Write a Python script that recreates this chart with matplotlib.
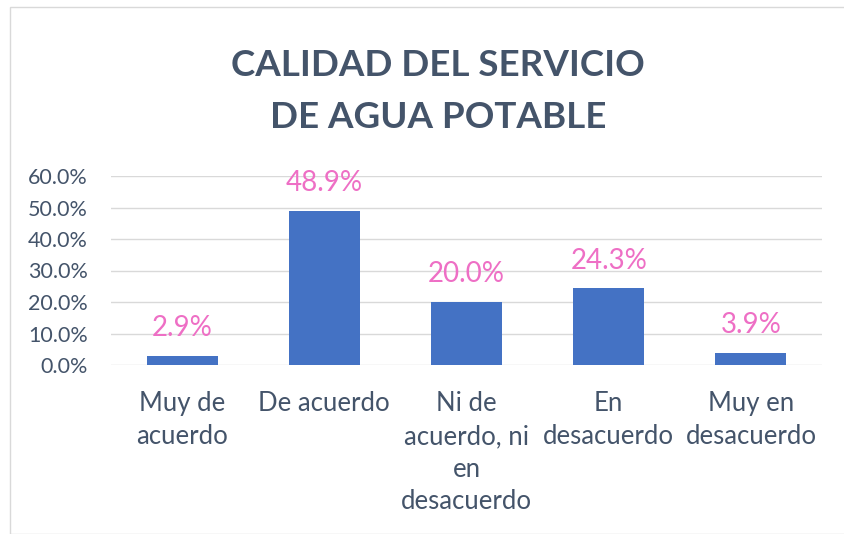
import matplotlib.pyplot as plt
from matplotlib.patches import Rectangle

categorias = ["Muy de\nacuerdo", "De acuerdo", "Ni de\nacuerdo, ni\nen\ndesacuerdo",
              "En\ndesacuerdo", "Muy en\ndesacuerdo"]
valores = [2.9, 48.9, 20.0, 24.3, 3.9]
ticks_y = [0, 10, 20, 30, 40, 50, 60]

plt.rcParams["font.family"] = ["Lato", "DejaVu Sans"]
texto = "#44546A"

fig = plt.figure(figsize=(8.44, 5.34), dpi=100)
fig.patches.append(Rectangle((10 / 844, 0), 1, 1 - 7 / 534, transform=fig.transFigure,
                             fill=False, edgecolor="#D9D9D9", linewidth=1))

ax = fig.add_axes([111 / 844, 1 - 365 / 534, 711 / 844, 189 / 534])
x = range(len(categorias))
ax.bar(x, valores, width=0.5, color="#4472C4", zorder=3)
for xi, v in zip(x, valores):
    ax.text(xi, v + 6.3, f"{v:.1f}%", ha="center", va="baseline", fontsize=20, color="#EE6FC5")

ax.set_xlim(-0.5, len(categorias) - 0.5)
ax.set_ylim(0, 60)
ax.set_yticks(ticks_y)
ax.set_yticklabels([f"{t:.1f}%" for t in ticks_y], fontsize=15.5, color=texto)
ax.set_xticks(list(x))
ax.set_xticklabels(categorias, fontsize=18.5, color=texto, linespacing=1.38, va="top")
ax.tick_params(length=0, pad=16.5, axis="y")
ax.tick_params(length=0, pad=19, axis="x")
ax.grid(axis="y", color="#D9D9D9", linewidth=1, zorder=0)
for s in ax.spines.values():
    s.set_visible(False)

fig.text(438 / 844, 1 - 65 / 534, "CALIDAD DEL SERVICIO", ha="center", va="center",
         fontsize=26.5, fontweight="bold", color=texto)
fig.text(438 / 844, 1 - 117 / 534, "DE AGUA POTABLE", ha="center", va="center",
         fontsize=26.5, fontweight="bold", color=texto)

fig.savefig("out.png", dpi=100)
